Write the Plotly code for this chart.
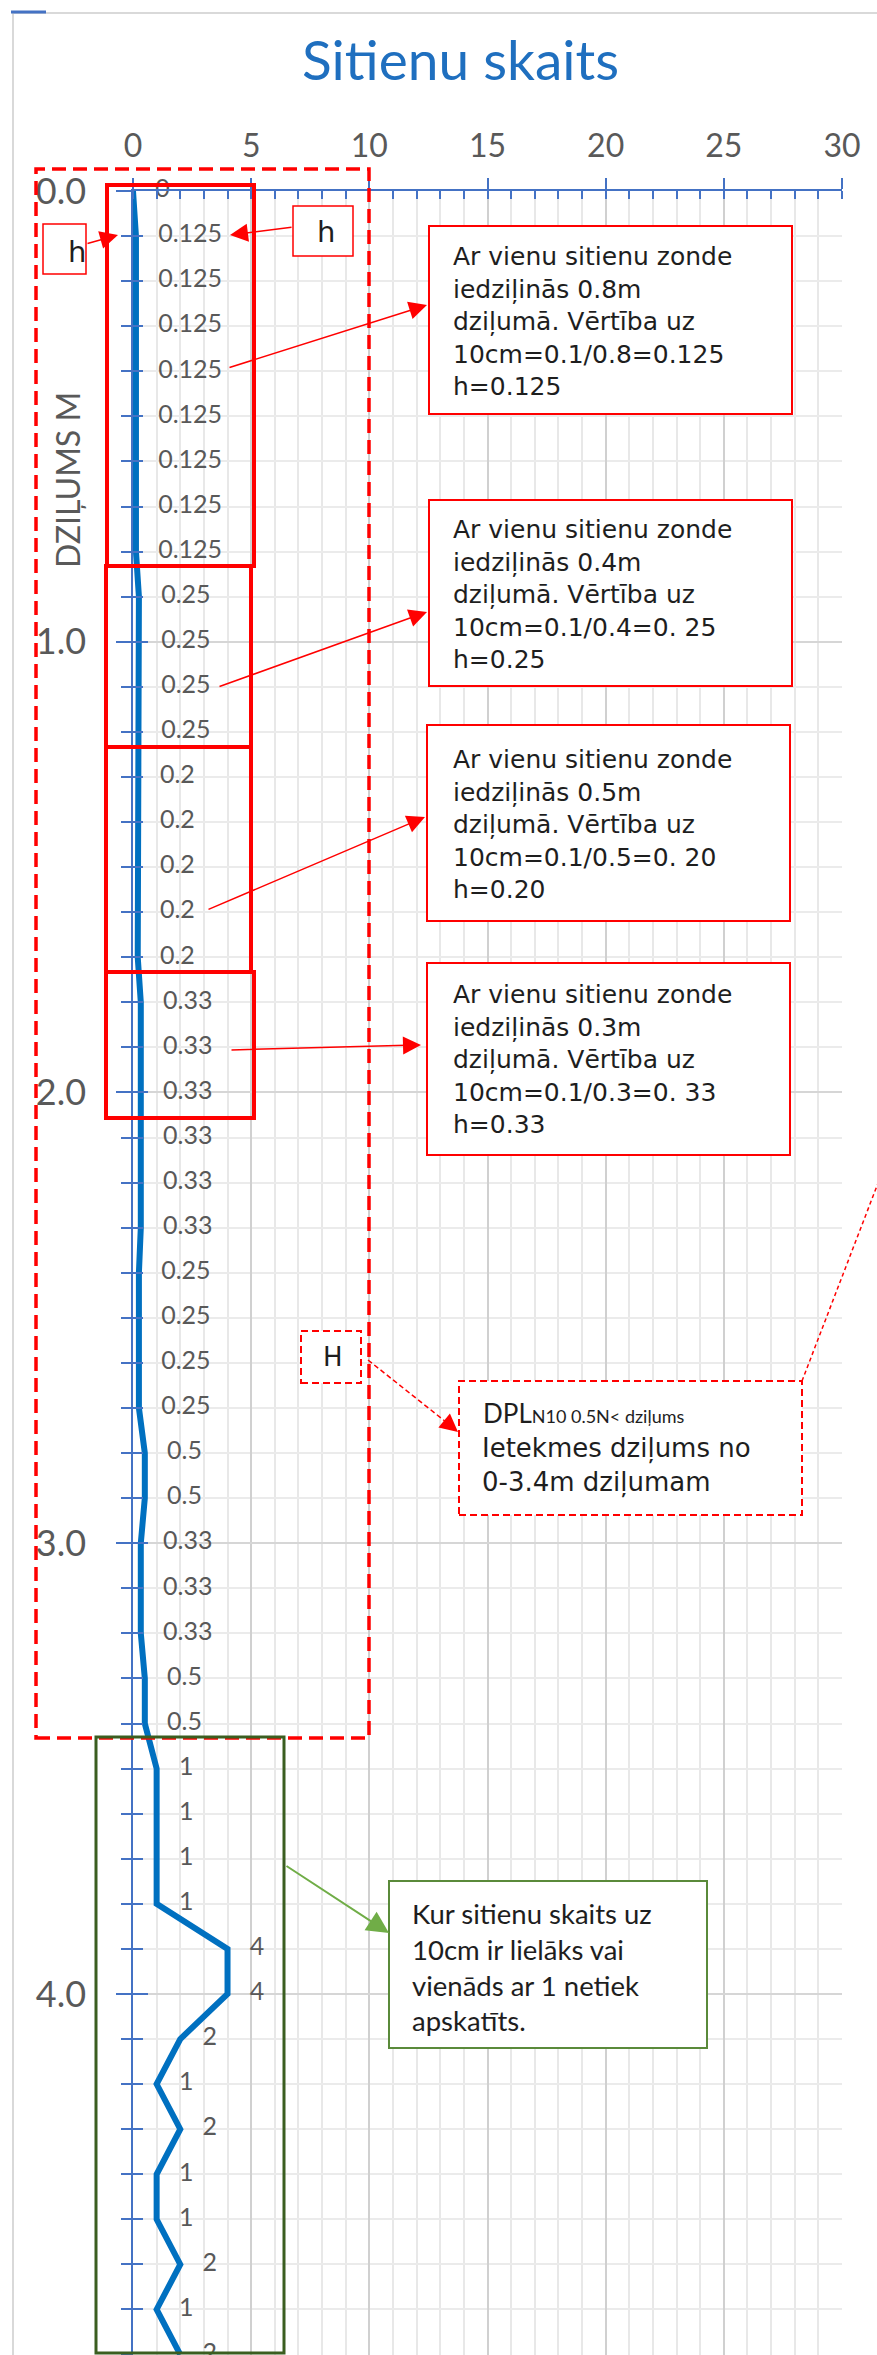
import plotly.graph_objects as go

# ---------------- data ----------------
depth_m = [0.0, 0.1, 0.2, 0.3, 0.4, 0.5, 0.6, 0.7, 0.8, 0.9,
           1.0, 1.1, 1.2, 1.3, 1.4, 1.5, 1.6, 1.7, 1.8, 1.9,
           2.0, 2.1, 2.2, 2.3, 2.4, 2.5, 2.6, 2.7, 2.8, 2.9,
           3.0, 3.1, 3.2, 3.3, 3.4, 3.5, 3.6, 3.7, 3.8, 3.9,
           4.0, 4.1, 4.2, 4.3, 4.4, 4.5, 4.6, 4.7, 4.8]
blows_per_10cm = [0,
                  0.125, 0.125, 0.125, 0.125, 0.125, 0.125, 0.125, 0.125,
                  0.25, 0.25, 0.25, 0.25,
                  0.2, 0.2, 0.2, 0.2, 0.2,
                  0.33, 0.33, 0.33, 0.33, 0.33, 0.33,
                  0.25, 0.25, 0.25, 0.25,
                  0.5, 0.5,
                  0.33, 0.33, 0.33,
                  0.5, 0.5,
                  1, 1, 1, 1,
                  4, 4,
                  2, 1, 2, 1, 1, 2, 1, 2]
blow_labels = [f"{v:g}" for v in blows_per_10cm]
x_range = [0, 30]
depth_visible = 4.801

callout_texts = [
    ["Ar vienu sitienu zonde", "iedziļinās 0.8m", "dziļumā. Vērtība uz", "10cm=0.1/0.8=0.125", "h=0.125"],
    ["Ar vienu sitienu zonde", "iedziļinās 0.4m", "dziļumā. Vērtība uz", "10cm=0.1/0.4=0. 25", "h=0.25"],
    ["Ar vienu sitienu zonde", "iedziļinās 0.5m", "dziļumā. Vērtība uz", "10cm=0.1/0.5=0. 20", "h=0.20"],
    ["Ar vienu sitienu zonde", "iedziļinās 0.3m", "dziļumā. Vērtība uz", "10cm=0.1/0.3=0. 33", "h=0.33"],
]
dpl_text = ["Ietekmes dziļums no", "0-3.4m dziļumam"]
green_text = ["Kur sitienu skaits uz", "10cm ir lielāks vai", "vienāds ar 1 netiek", "apskatīts."]

# ---------------- geometry helpers ----------------
W, H = 877, 2355
ML, MR, MT, MB = 133, 35, 191, 0
PW = W - ML - MR
PH = H - MT - MB


def px(x):
    return (x - ML) / PW


def py(y):
    return 1 - (y - MT) / PH


RED = "#FF0000"
AXBLUE = "#4472C4"
GRAY = "#595959"
CALLOUT_FONT = "DejaVu Sans"
CAL_FONT = "Lato"

fig = go.Figure()

fig.add_trace(go.Scatter(
    x=blows_per_10cm, y=depth_m, mode="lines",
    line=dict(color="#0070C0", width=6),
    hoverinfo="skip", showlegend=False))

fig.add_trace(go.Scatter(
    x=blows_per_10cm, y=depth_m, mode="markers+text",
    marker=dict(size=34, color="rgba(0,0,0,0)"),
    text=blow_labels, textposition="middle right",
    textfont=dict(family=CAL_FONT, size=25, color=GRAY),
    cliponaxis=False, hoverinfo="skip", showlegend=False))

# invisible trace to host the overlay axes (cross ticks)
fig.add_trace(go.Scatter(
    x=blows_per_10cm, y=depth_m, xaxis="x2", yaxis="y2", mode="lines",
    opacity=0, hoverinfo="skip", showlegend=False))

fig.update_layout(
    width=W, height=H, autosize=False,
    margin=dict(l=ML, r=MR, t=MT, b=MB, pad=0),
    paper_bgcolor="white", plot_bgcolor="white",
    showlegend=False,
    xaxis=dict(
        side="top", range=x_range, tick0=0, dtick=5,
        showline=True, linecolor=AXBLUE, linewidth=2,
        ticks="outside", ticklen=11, tickwidth=2, tickcolor=AXBLUE,
        showgrid=True, gridcolor="#D0D0D0", gridwidth=2,
        zeroline=False,
        tickfont=dict(family=CAL_FONT, size=32, color=GRAY),
        ticklabelstandoff=8,
        minor=dict(dtick=1, ticks="inside", ticklen=8, tickwidth=2, tickcolor=AXBLUE,
                   showgrid=True, gridcolor="#E8E8E8", gridwidth=1.5),
    ),
    yaxis=dict(
        range=[depth_visible, 0], tick0=0, dtick=1, tickformat=".1f",
        showline=True, linecolor=AXBLUE, linewidth=1.5,
        ticks="outside", ticklen=15, tickwidth=2, tickcolor=AXBLUE,
        showgrid=True, gridcolor="#D6D6D6", gridwidth=2,
        zeroline=False,
        tickfont=dict(family=CAL_FONT, size=36, color=GRAY),
        ticklabelstandoff=23,
        minor=dict(dtick=0.1, ticks="outside", ticklen=10, tickwidth=2, tickcolor=AXBLUE,
                   showgrid=True, gridcolor="#EBEBEB", gridwidth=1.5),
    ),
    xaxis2=dict(
        overlaying="x", side="top", anchor="y", range=x_range, tick0=0, dtick=5,
        ticks="inside", ticklen=8, tickwidth=2, tickcolor=AXBLUE,
        showticklabels=False, showgrid=False, showline=False, zeroline=False,
    ),
    yaxis2=dict(
        overlaying="y", side="left", anchor="x", range=[depth_visible, 0], tick0=0, dtick=1,
        ticks="inside", ticklen=15, tickwidth=2, tickcolor=AXBLUE,
        showticklabels=False, showgrid=False, showline=False, zeroline=False,
        minor=dict(dtick=0.1, ticks="inside", ticklen=10, tickwidth=2, tickcolor=AXBLUE,
                   showgrid=False),
    ),
)


def rect(x0, y0, x1, y1, color, width, dash=None, fill=None, layer="above"):
    fig.add_shape(type="rect", xref="paper", yref="paper",
                  x0=px(x0), x1=px(x1), y0=py(y1), y1=py(y0),
                  line=dict(color=color, width=width, dash=dash),
                  fillcolor=fill if fill else "rgba(0,0,0,0)", layer=layer)


def seg(x0, y0, x1, y1, color, width, dash=None):
    fig.add_shape(type="line", xref="paper", yref="paper",
                  x0=px(x0), x1=px(x1), y0=py(y0), y1=py(y1),
                  line=dict(color=color, width=width, dash=dash), layer="above")


def arrow(xt, yt, xh, yh, color, width=1.5, size=2.4, head=2):
    fig.add_annotation(xref="paper", yref="paper", x=px(xh), y=py(yh),
                       ax=xt - xh, ay=yt - yh, axref="pixel", ayref="pixel",
                       text="", showarrow=True, arrowhead=head, arrowsize=size,
                       arrowwidth=width, arrowcolor=color, standoff=0, startstandoff=0)


def txt(x, y, s, size, family, color="#1E1E1E", xanchor="left", angle=0, weight=None):
    f = dict(family=family, size=size, color=color)
    if weight:
        f["weight"] = weight
    fig.add_annotation(xref="paper", yref="paper", x=px(x), y=py(y), text=s,
                       showarrow=False, xanchor=xanchor, yanchor="middle", align="left",
                       font=f, textangle=angle)


# chart border + small blue marker top-left
rect(13, 13, 1000, 2500, "#D9D9D9", 2, layer="below")
seg(11, 12, 46, 12, AXBLUE, 3)

# title and axis title
txt(460, 59, "Sitienu skaits", 55, CAL_FONT, color="#1F6FBF", xanchor="center")
txt(68, 480, "DZIĻUMS M", 32, CAL_FONT, color=GRAY, xanchor="center", angle=-90)

# big dashed influence box
rect(36, 169, 369, 1738, RED, 3.5, dash="14px,7px")

# solid red boxes around constant segments
rect(107, 185, 254, 566, RED, 4)
rect(106, 566, 251, 747, RED, 4)
rect(106, 747, 251, 972, RED, 4)
rect(106, 972, 254, 1118, RED, 4)

# small h boxes
rect(43, 224, 86, 274, RED, 1.5, fill="white")
txt(77, 252, "h", 29, CALLOUT_FONT, xanchor="center")
arrow(86, 244, 118, 235, RED)
rect(293, 206, 353, 256, RED, 1.5, fill="white")
txt(326, 232, "h", 29, CALLOUT_FONT, xanchor="center")
arrow(293, 227, 230, 235, RED)

# callout boxes (red)
boxes = [(429, 226, 792, 414), (429, 500, 792, 686), (427, 725, 790, 921), (427, 963, 790, 1155)]
arrows = [((228, 368), (427, 305)), ((218, 687), (427, 612)),
          ((207, 910), (425, 817)), ((230, 1050), (421, 1045))]
for (x0, y0, x1, y1), lines, (tail, tip) in zip(boxes, callout_texts, arrows):
    rect(x0, y0, x1, y1, RED, 2, fill="white")
    txt(451, (y0 + y1) / 2 + 1, "<br>".join(lines), 25, CALLOUT_FONT)
    arrow(tail[0], tail[1], tip[0], tip[1], RED)

# H box and DPL box
rect(301, 1331, 361, 1383, RED, 2, dash="7px,4px", fill="white")
txt(333, 1357, "H", 26, CALLOUT_FONT, xanchor="center")
seg(368, 1360, 446, 1422, RED, 1.5, dash="5px,3px")
arrow(446, 1422, 458, 1432, RED, size=2.4)
rect(459, 1381, 802, 1515, RED, 2, dash="7px,4px", fill="white")
seg(802, 1381, 890, 1152, RED, 1.5, dash="4px,3px")
txt(481, 1413, "DPL<span style='font-size:18px'>N10 0.5N&lt; dziļums</span>", 26, CAL_FONT)
txt(480, 1465, "<br>".join(dpl_text), 26, CALLOUT_FONT)

# green zone
rect(96, 1737, 284, 2353, "#3B5E20", 3)
rect(389, 1881, 707, 2048, "#5A8A3A", 2, fill="white")
txt(410, 1967, "<br>".join(green_text), 27.5, CAL_FONT)
arrow(285, 1865, 389, 1933, "#70AD47", width=2, size=2.2)

fig.write_html("out.html", config={"displayModeBar": False},
               post_script="document.body.style.margin='0';")
